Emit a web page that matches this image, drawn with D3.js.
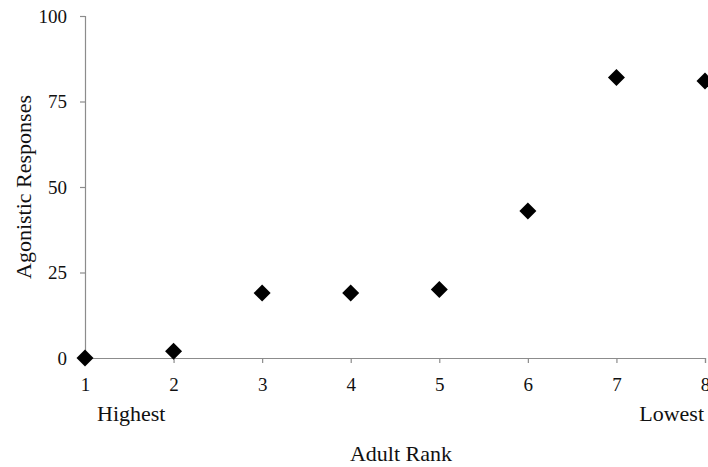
<!DOCTYPE html>
<html><head><meta charset="utf-8">
<script src="https://cdn.jsdelivr.net/npm/d3@7"></script>
<style>body{margin:0;background:#fff}svg{display:block}text{font-family:"Liberation Serif","Times New Roman",serif;fill:#111}</style>
</head><body>
<svg id="c" width="708" height="467"></svg>
<script>
const ranks = [1,2,3,4,5,6,7,8];
const responses = [0,2,19,19,20,43,82,81];
const yTicks = [0,25,50,75,100];
const xLabel = "Adult Rank";
const yLabel = "Agonistic Responses";
const lowLabel = "Highest", highLabel = "Lowest";

const svg = d3.select("#c");
const x = d3.scaleLinear().domain([1,8]).range([85,705]);
const y = d3.scaleLinear().domain([0,100]).range([358,16]);
const axisColor = "#8c8c8c";

const xa = svg.append("g").attr("transform","translate(0,358)")
  .call(d3.axisBottom(x).tickValues(ranks).tickSize(5).tickPadding(15).tickFormat(d3.format("d")));
const ya = svg.append("g").attr("transform","translate(85,0)")
  .call(d3.axisLeft(y).tickValues(yTicks).tickSize(5).tickPadding(13));
[xa,ya].forEach(a=>{
  a.select(".domain").attr("stroke",axisColor).attr("stroke-width",1.2);
  a.selectAll(".tick line").attr("stroke",axisColor).attr("stroke-width",1.2);
  a.selectAll(".tick text").attr("font-size",19).attr("fill","#111")
   .style("font-family",'"Liberation Serif",serif');
});

svg.append("g").selectAll("path").data(ranks).join("path")
  .attr("d","M0,-8.5L8.5,0L0,8.5L-8.5,0Z")
  .attr("transform",(d,i)=>`translate(${x(d)},${y(responses[i])})`)
  .attr("fill","#000");

svg.append("text").attr("x",97).attr("y",421).attr("font-size",22).text(lowLabel);
svg.append("text").attr("x",704).attr("y",421).attr("font-size",22).attr("text-anchor","end").text(highLabel);
svg.append("text").attr("x",401).attr("y",461).attr("font-size",22).attr("text-anchor","middle").text(xLabel);
svg.append("text").attr("transform","translate(31,187) rotate(-90)").attr("font-size",22)
  .attr("text-anchor","middle").text(yLabel);
</script>
</body></html>
